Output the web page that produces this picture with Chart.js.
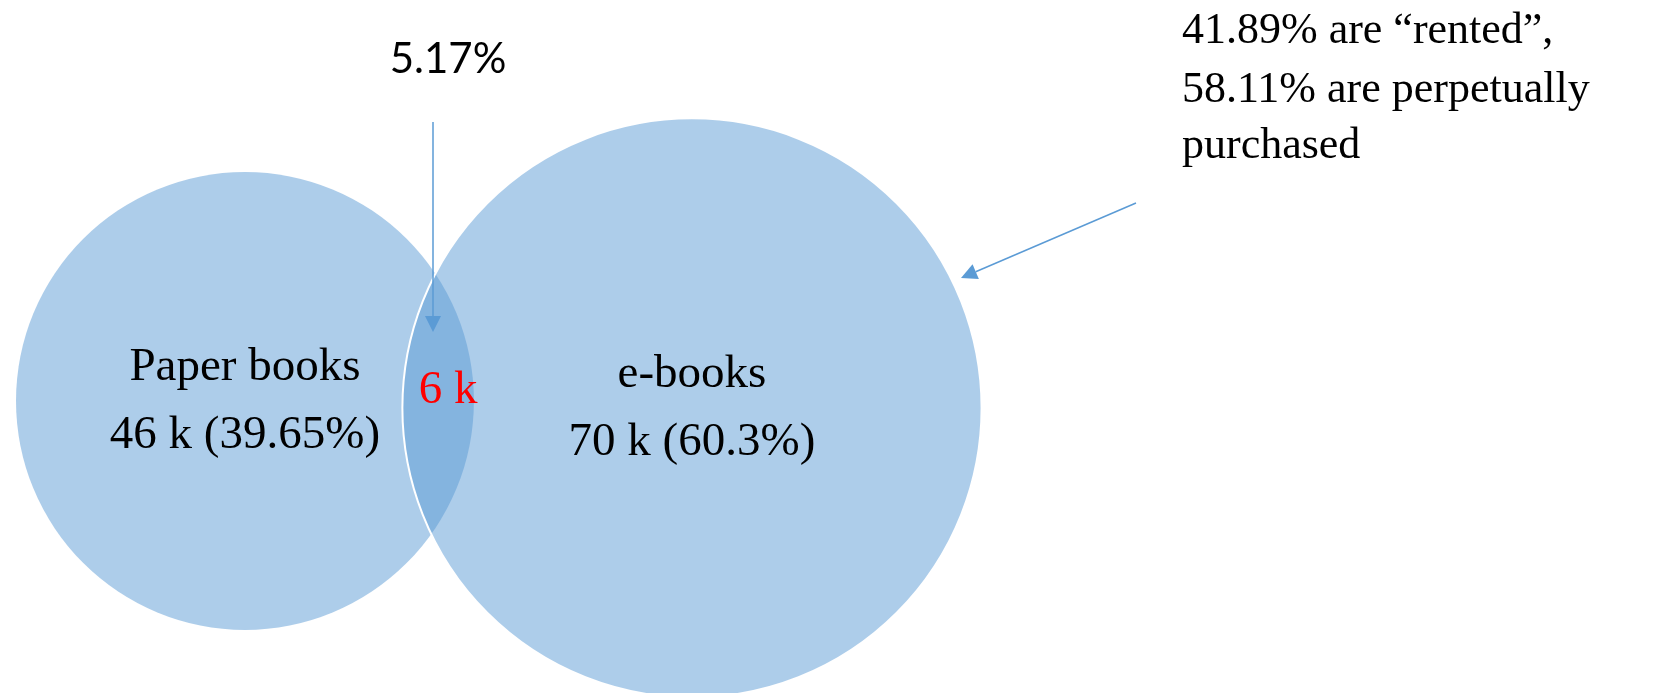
<!DOCTYPE html>
<html>
<head>
<meta charset="utf-8">
<title>Paper books / e-books</title>
<script src="https://cdn.jsdelivr.net/npm/chart.js"></script>
<style>
  html, body { margin: 0; padding: 0; background: #fff; }
  #wrap { position: relative; width: 1663px; height: 693px; }
</style>
</head>
<body>
<div id="wrap"><canvas id="myChart"></canvas></div>
<script>
// Daten aus dem Bild
const categories = ['Paper books', 'e-books'];
const totalsK = [46, 70];           // Anzahl in Tausend
const sharePct = [39.65, 60.3];     // Anteil in %
const overlapK = 6;                 // beides
const overlapPct = 5.17;
const rentedPct = 41.89;            // e-books gemietet
const purchasedPct = 58.11;         // e-books gekauft

// Layout (Mittelpunkte als Anteil der Fläche, Radius aus sqrt(exklusiv))
const centerX = [0.1473, 0.4161];
const centerY = [0.5786, 0.5887];
const radiusPerSqrtK = 36.2;

const fillBlue = 'rgba(91, 155, 213, 0.5)';
const arrowBlue = '#5B9BD5';
const serif = '"Liberation Serif", "Times New Roman", serif';

// Pfeil mit gefüllter Spitze
function drawArrow(ctx, x1, y1, x2, y2) {
    const len = 16, half = 8;
    const ang = Math.atan2(y2 - y1, x2 - x1);
    const bx = x2 - Math.cos(ang) * len;
    const by = y2 - Math.sin(ang) * len;
    ctx.save();
    ctx.strokeStyle = arrowBlue;
    ctx.lineWidth = 1.5;
    ctx.beginPath();
    ctx.moveTo(x1, y1);
    ctx.lineTo(bx, by);
    ctx.stroke();
    ctx.fillStyle = arrowBlue;
    ctx.beginPath();
    ctx.moveTo(x2, y2);
    ctx.lineTo(bx + Math.sin(ang) * half, by - Math.cos(ang) * half);
    ctx.lineTo(bx - Math.sin(ang) * half, by + Math.cos(ang) * half);
    ctx.closePath();
    ctx.fill();
    ctx.restore();
}

// Texte und Pfeile
const vennText = {
    id: 'vennText',
    afterDatasetsDraw(chart) {
        const ctx = chart.ctx;
        ctx.save();
        ctx.textBaseline = 'alphabetic';

        // Beschriftung in den Kreisen
        ctx.textAlign = 'center';
        ctx.fillStyle = '#000';
        ctx.font = '47px ' + serif;
        categories.forEach(function(name, i) {
            const el = chart.getDatasetMeta(i).data[0];
            ctx.fillText(name, el.x, el.y - 21);
            ctx.fillText(totalsK[i] + ' k (' + sharePct[i] + '%)', el.x, el.y + 47);
        });

        // Schnittmenge
        ctx.fillStyle = '#FF0000';
        ctx.fillText(overlapK + ' k', 448, 403);

        // Prozent oben mit Pfeil
        ctx.fillStyle = '#000';
        ctx.font = '42px Lato, "Open Sans", sans-serif';
        ctx.fillText(overlapPct + '%', 448, 73);
        drawArrow(ctx, 433, 122, 433, 332);

        // Text rechts oben mit Pfeil
        ctx.fillStyle = '#000';
        ctx.textAlign = 'left';
        ctx.font = '44px ' + serif;
        ctx.fillText(rentedPct + '% are \u201Crented\u201D,', 1182, 43);
        ctx.fillText(purchasedPct + '% are perpetually', 1182, 102);
        ctx.fillText('purchased', 1182, 158);
        drawArrow(ctx, 1136, 203, 961, 278);

        ctx.restore();
    }
};

const config = {
    type: 'bubble',
    data: {
        datasets: [{
            label: categories[0],
            data: [{ x: centerX[0], y: centerY[0], r: radiusPerSqrtK * Math.sqrt(totalsK[0] - overlapK) }],
            backgroundColor: fillBlue,
            borderWidth: 0,
            order: 2,
            clip: false
        }, {
            label: categories[1],
            data: [{ x: centerX[1], y: centerY[1], r: radiusPerSqrtK * Math.sqrt(totalsK[1] - overlapK) }],
            backgroundColor: fillBlue,
            borderColor: '#ffffff',
            borderWidth: 2,
            order: 1,  // liegt oben
            clip: false
        }]
    },
    options: {
        responsive: true,
        maintainAspectRatio: false,
        animation: false,
        layout: { padding: 0, autoPadding: false },
        plugins: {
            legend: { display: false },
            tooltip: { enabled: false }
        },
        scales: {
            x: { type: 'linear', min: 0, max: 1, display: false },
            y: { type: 'linear', min: 0, max: 1, reverse: true, display: false }
        }
    },
    plugins: [vennText]
};

const ctx = document.getElementById('myChart').getContext('2d');
const myChart = new Chart(ctx, config);
</script>
</body>
</html>
